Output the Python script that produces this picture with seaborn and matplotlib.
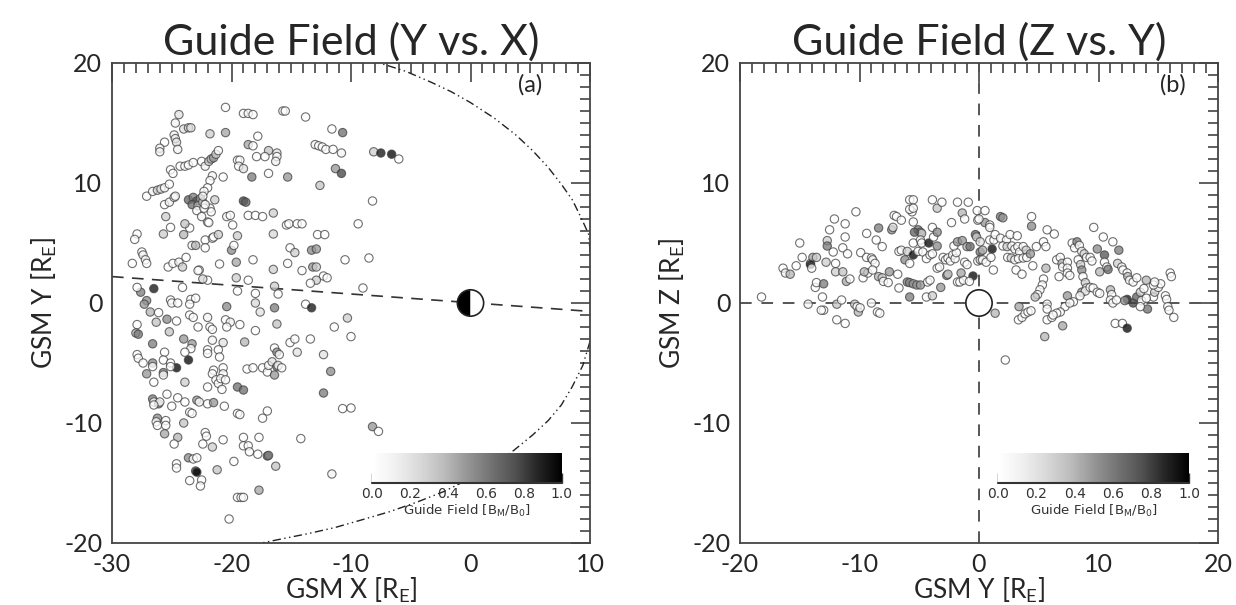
import numpy as np
import pandas as pd
import matplotlib
matplotlib.use("Agg")
import matplotlib.pyplot as plt
import seaborn as sns
from matplotlib.ticker import MultipleLocator
from matplotlib.patches import Circle, Wedge
from matplotlib.cm import ScalarMappable
from matplotlib.colors import Normalize

# ---- panel (a): GSM X / GSM Y positions and guide field ----
xa = [-24.4, -24.7, -24.0, -23.6, -23.4, -24.8, -24.7, -24.6, -24.5, -25.6,
      -26.0, -26.0, -20.5, -21.8, -20.5, -19.0, -18.6, -18.2, -17.8, -15.7,
      -15.5, -13.8, -11.6, -10.7, -18.6, -18.2, -16.9, -16.2, -17.9, -17.2,
      -16.2, -16.3, -19.5, -19.3, -19.4, -19.0, -18.3, -15.3, -16.9, -13.0,
      -12.7, -12.4, -12.1, -11.5, -10.8, -11.3, -10.8, -12.6, -8.1, -7.5,
      -6.6, -6.0, -8.2, -9.4, -8.5, -9.0, -23.6, -23.2, -22.9, -22.6,
      -23.3, -22.8, -22.4, -19.0, -18.8, -27.1, -26.6, -26.2, -25.9, -25.6,
      -25.2, -25.6, -25.2, -24.8, -24.7, -25.1, -24.9, -24.3, -23.9, -23.6,
      -23.2, -22.5, -22.2, -21.9, -21.7, -21.5, -21.3, -21.1, -21.6, -21.8,
      -22.0, -22.3, -22.4, -20.7, -21.4, -21.8, -21.7, -22.0, -21.9, -22.9,
      -22.5, -22.3, -22.2, -23.5, -23.9, -24.0, -25.1, -25.5, -25.7, -27.9,
      -28.1, -27.5, -27.4, -27.2, -27.1, -28.3, -25.3, -24.9, -24.4, -24.1,
      -23.8, -23.3, -23.0, -22.2, -21.6, -21.5, -22.2, -21.1, -21.0, -22.7,
      -20.4, -20.1, -19.9, -20.0, -19.6, -19.8, -19.5, -19.6, -18.6, -18.2,
      -18.6, -18.0, -17.4, -16.5, -15.4, -15.2, -14.5, -14.1, -16.5, -16.5,
      -15.1, -14.7, -15.3, -14.1, -13.3, -12.9, -12.8, -12.2, -13.2, -12.9,
      -12.3, -12.0, -12.9, -13.4, -16.4, -16.1, -18.0, -18.0, -19.5, -20.4,
      -22.0, -22.4, -22.8, -23.4, -23.0, -24.1, -26.5, -27.6, -27.9, -27.1,
      -25.1, -25.0, -24.5, -13.8, -13.3, -16.4, -27.3, -23.5, -17.6, -16.2,
      -26.8, -26.1, -26.3, -25.4, -24.6, -23.5, -23.2, -22.8, -22.0, -21.8,
      -21.6, -20.5, -20.1, -20.4, -19.3, -27.9, -28.0, -27.8, -25.2, -26.6,
      -25.6, -25.7, -25.1, -24.0, -23.3, -23.4, -23.9, -21.6, -22.0, -22.0,
      -20.7, -21.1, -21.0, -18.9, -18.0, -23.6, -24.6, -27.9, -27.8, -27.4,
      -26.6, -26.6, -25.7, -25.7, -27.1, -26.5, -25.1, -23.9, -21.5, -21.6,
      -21.3, -21.1, -20.7, -20.7, -20.9, -20.5, -20.8, -22.0, -19.5, -19.0,
      -18.7, -18.2, -17.4, -17.0, -16.9, -16.6, -16.2, -16.1, -15.8, -16.4,
      -16.4, -16.2, -16.0, -15.1, -14.7, -14.5, -13.4, -12.3, -11.7, -12.3,
      -10.7, -10.0, -8.2, -7.7, -11.6, -14.2, -17.0, -17.4, -17.7, -19.0,
      -19.0, -18.6, -18.5, -17.8, -17.0, -16.9, -16.3, -19.8, -17.7, -19.5,
      -19.2, -19.0, -20.2, -21.6, -20.7, -22.2, -22.1, -22.4, -21.2, -23.6,
      -23.2, -22.9, -23.0, -22.9, -23.5, -22.5, -22.6, -24.6, -24.6, -24.5,
      -24.8, -25.6, -24.0, -26.2, -26.3, -26.2, -25.5, -25.5, -26.6, -26.5,
      -26.1, -26.0, -26.5, -25.4, -25.0, -24.5, -23.9, -23.5, -23.3, -22.9,
      -22.7, -22.0, -21.5, -20.6, -19.5, -19.3, -10.5, -11.4, -10.3, -10.0]
ya = [15.7, 15.0, 14.5, 14.6, 14.6, 14.0, 13.7, 13.4, 12.8, 13.4,
      12.9, 12.6, 16.3, 14.1, 14.2, 15.8, 15.8, 15.7, 13.9, 16.0,
      16.0, 15.5, 14.5, 14.2, 13.2, 13.1, 12.7, 12.5, 12.2, 12.2,
      12.2, 11.8, 11.9, 11.9, 11.4, 11.2, 10.5, 10.5, 10.8, 13.2,
      13.1, 13.0, 12.8, 12.8, 12.5, 11.2, 10.8, 9.8, 12.6, 12.5,
      12.4, 12.0, 8.5, 6.6, 3.75, 1.25, 8.6, 8.8, 8.5, 8.7,
      8.2, 8.1, 8.4, 8.5, 8.4, 8.9, 9.3, 9.4, 9.5, 9.6,
      9.9, 8.2, 8.4, 8.8, 8.9, 11.1, 10.8, 11.4, 11.4, 11.5,
      11.7, 11.8, 11.4, 11.8, 12.0, 12.1, 12.4, 12.7, 10.6, 10.2,
      9.6, 9.3, 8.9, 10.5, 8.6, 7.9, 7.6, 6.75, 6.7, 7.7,
      7.2, 7.9, 8.2, 6.25, 6.6, 5.7, 6.3, 7.2, 5.75, 5.75,
      5.3, 4.25, 4.0, 3.6, 3.3, 3.3, 3.0, 3.3, 3.4, 3.0,
      3.8, 4.8, 4.8, 5.25, 5.4, 5.5, 4.6, 5.7, 3.25, 2.75,
      7.2, 7.3, 6.5, 4.4, 3.4, 4.8, 5.6, 2.1, 1.9, 3.6,
      7.3, 7.3, 7.2, 7.5, 6.5, 6.6, 6.6, 6.6, 5.75, 2.8,
      4.6, 4.2, 3.3, 2.7, 4.4, 4.5, 5.7, 5.7, 3.0, 3.0,
      2.25, 2.1, 1.9, 1.65, 1.4, 0.75, 0.8, 0.0, 1.0, -0.3,
      1.9, 2.0, 2.7, 0.3, 0.4, 1.3, 1.2, 0.9, 1.3, 0.2,
      0.25, 0.0, 0.0, -0.1, -0.4, -0.4, -0.1, -0.1, -0.75, -1.75,
      -0.75, -0.8, -1.6, -1.35, -1.5, -1.0, -1.2, -2.0, -1.2, -2.0,
      -2.2, -1.4, -1.6, -2.0, -1.8, -1.8, -2.5, -2.6, -2.4, -3.4,
      -4.1, -4.75, -5.0, -3.0, -3.4, -3.8, -4.1, -3.1, -3.9, -4.2,
      -3.3, -3.9, -4.5, -3.25, -2.3, -4.75, -5.4, -4.3, -4.6, -5.0,
      -5.0, -5.3, -5.8, -6.0, -5.9, -6.6, -5.3, -6.6, -5.6, -5.9,
      -6.4, -6.7, -5.4, -5.9, -6.3, -6.4, -7.2, -7.0, -7.0, -7.25,
      -5.5, -5.4, -5.4, -5.75, -5.2, -4.9, -5.3, -5.2, -5.4, -6.0,
      -3.75, -4.1, -4.3, -3.3, -3.0, -4.1, -3.0, -4.3, -5.7, -7.5,
      -8.8, -8.75, -10.3, -10.7, -14.25, -11.3, -9.0, -9.6, -11.2, -11.2,
      -11.9, -11.9, -12.4, -12.6, -12.75, -12.7, -13.6, -13.2, -15.6, -16.2,
      -16.2, -16.2, -18.0, -12.0, -11.4, -10.8, -11.1, -11.75, -13.9, -12.9,
      -13.0, -12.9, -14.0, -14.1, -14.8, -14.75, -15.25, -13.4, -13.75, -11.2,
      -11.75, -10.9, -10.0, -9.6, -9.9, -10.2, -9.8, -10.2, -8.0, -8.25,
      -8.4, -8.25, -8.5, -7.6, -8.6, -7.9, -8.25, -9.1, -9.2, -8.1,
      -8.25, -8.4, -8.3, -8.6, -9.2, -9.3, 3.6, -2.0, -1.25, -2.8]
ga = [0.2, 0.1, 0.2, 0.3, 0.2, 0.1, 0.15, 0.2, 0.1, 0.0,
      0.1, 0.1, 0.0, 0.3, 0.45, 0.05, 0.05, 0.0, 0.0, 0.05,
      0.0, 0.0, 0.0, 0.65, 0.45, 0.0, 0.35, 0.2, 0.0, 0.0,
      0.0, 0.1, 0.0, 0.0, 0.0, 0.2, 0.6, 0.5, 0.0, 0.1,
      0.0, 0.0, 0.0, 0.0, 0.1, 0.5, 0.8, 0.35, 0.3, 0.95,
      1.0, 0.0, 0.0, 0.0, 0.0, 0.0, 0.7, 0.6, 0.75, 0.5,
      0.65, 0.4, 0.3, 0.8, 0.7, 0.0, 0.1, 0.3, 0.2, 0.0,
      0.0, 0.0, 0.1, 0.0, 0.1, 0.0, 0.0, 0.0, 0.0, 0.0,
      0.0, 0.0, 0.1, 0.3, 0.4, 0.5, 0.3, 0.0, 0.1, 0.0,
      0.0, 0.0, 0.1, 0.0, 0.3, 0.1, 0.0, 0.0, 0.0, 0.0,
      0.1, 0.0, 0.0, 0.0, 0.35, 0.4, 0.0, 0.3, 0.3, 0.0,
      0.0, 0.0, 0.1, 0.0, 0.0, 0.0, 0.0, 0.0, 0.1, 0.3,
      0.0, 0.1, 0.4, 0.0, 0.0, 0.0, 0.0, 0.3, 0.0, 0.0,
      0.1, 0.0, 0.0, 0.55, 0.45, 0.0, 0.3, 0.3, 0.0, 0.0,
      0.0, 0.0, 0.0, 0.3, 0.0, 0.0, 0.0, 0.0, 0.25, 0.3,
      0.0, 0.3, 0.0, 0.0, 0.55, 0.5, 0.0, 0.0, 0.5, 0.3,
      0.0, 0.0, 0.3, 0.0, 0.3, 0.0, 0.0, 0.25, 0.0, 0.55,
      0.0, 0.25, 0.0, 0.0, 0.0, 0.0, 0.95, 0.6, 0.0, 0.55,
      0.0, 0.0, 0.0, 0.0, 0.95, 0.6, 0.5, 0.0, 0.2, 0.35,
      0.4, 0.0, 0.35, 0.55, 0.0, 0.0, 0.0, 0.0, 0.1, 0.0,
      0.0, 0.0, 0.1, 0.0, 0.0, 0.0, 0.45, 0.6, 0.35, 0.6,
      0.0, 0.0, 0.0, 0.5, 0.5, 0.0, 0.0, 0.1, 0.0, 0.0,
      0.2, 0.0, 0.0, 0.4, 0.0, 1.0, 1.0, 0.0, 0.0, 0.0,
      0.55, 0.0, 0.6, 0.0, 0.5, 0.0, 0.0, 0.3, 0.0, 0.0,
      0.0, 0.0, 0.0, 0.0, 0.0, 0.0, 0.0, 0.0, 0.65, 0.65,
      0.0, 0.0, 0.0, 0.0, 0.0, 0.2, 0.6, 0.0, 0.0, 0.5,
      0.0, 0.55, 0.0, 0.0, 0.0, 0.2, 0.0, 0.2, 0.55, 0.6,
      0.0, 0.0, 0.5, 0.0, 0.1, 0.0, 0.0, 0.0, 0.0, 0.0,
      0.0, 0.0, 0.0, 0.0, 0.65, 0.6, 0.35, 0.0, 0.45, 0.0,
      0.0, 0.0, 0.0, 0.3, 0.0, 0.0, 0.0, 0.0, 0.35, 0.55,
      0.0, 0.0, 0.8, 1.0, 0.0, 0.0, 0.0, 0.0, 0.0, 0.4,
      0.0, 0.45, 0.35, 0.55, 0.0, 0.0, 0.0, 0.0, 0.6, 0.0,
      0.6, 0.0, 0.0, 0.0, 0.0, 0.0, 0.0, 0.0, 0.0, 0.5,
      0.0, 0.0, 0.5, 0.0, 0.0, 0.0, 0.0, 0.0, 0.3, 0.0]

# ---- panel (b): GSM Y / GSM Z positions and guide field ----
xb = [-18.2, -16.4, -16.2, -15.8, -15.3, -15.0, -14.8, -14.1, -13.9, -13.6,
      -14.1, -14.0, -14.3, -13.1, -13.0, -13.2, -13.7, -13.6, -13.0, -12.7,
      -12.7, -12.5, -12.1, -11.2, -10.3, -12.8, -12.0, -12.0, -12.2, -11.4,
      -11.2, -11.0, -11.4, -11.1, -10.8, -11.9, -11.5, -11.9, -11.2, -10.4,
      -10.2, -10.1, -9.95, -9.9, -9.4, -9.0, -8.9, -8.7, -9.7, -9.3,
      -8.9, -9.6, -9.4, -8.6, -8.4, -8.1, -9.0, -8.5, -8.3, -8.4,
      -8.1, -8.0, -7.6, -7.5, -7.3, -7.2, -7.1, -6.9, -6.5, -6.8,
      -6.7, -6.7, -6.5, -6.0, -6.2, -6.0, -5.8, -5.5, -5.2, -4.9,
      -5.8, -5.8, -5.5, -5.6, -5.8, -5.5, -5.8, -5.5, -5.1, -4.9,
      -4.8, -5.4, -5.5, -5.5, -4.9, -4.8, -5.1, -4.7, -4.4, -4.1,
      -3.9, -4.2, -4.3, -4.1, -4.4, -3.9, -3.9, -3.8, -3.9, -3.5,
      -3.5, -3.5, -3.5, -3.3, -3.2, -3.1, -3.0, -2.8, -2.6, -2.7,
      -2.6, -2.4, -2.2, -2.0, -1.9, -2.3, -2.1, -1.8, -1.4, -1.2,
      -1.8, -1.6, -1.3, -1.5, -1.8, -1.4, -1.0, -1.2, -1.0, -0.9,
      -0.75, -0.5, -0.8, -0.15, -0.1, 0.5, -0.3, -0.2, 0.1, 0.3,
      1.1, 0.5, 0.1, -0.1, 0.1, 0.3, 0.6, 1.2, 1.35, 0.9,
      0.9, 1.25, 1.0, 0.0, 0.9, 1.8, 2.0, 1.35, 1.8, 2.3,
      2.6, 3.2, 2.0, 2.35, 2.75, 3.0, 3.25, 3.4, 3.7, 3.95,
      2.4, 2.7, 3.0, 3.3, 3.7, 4.0, 4.3, 3.1, 3.6, 4.4,
      4.4, 4.5, 4.8, 5.4, 5.6, 5.7, 6.3, 5.4, 5.3, 5.1,
      4.9, 4.7, 5.6, 5.7, 5.7, 5.7, 6.1, 5.5, 3.35, 3.3,
      3.6, 3.85, 4.1, 4.35, 2.2, 6.5, 6.8, 6.95, 7.0, 7.4,
      7.4, 6.7, 7.4, 7.6, 7.4, 7.2, 6.8, 6.5, 6.2, 7.0,
      7.9, 7.6, 7.8, 8.0, 8.2, 8.4, 8.6, 8.8, 9.0, 8.3,
      8.5, 8.6, 8.7, 8.9, 9.0, 8.6, 8.9, 8.45, 9.3, 9.55,
      9.9, 10.1, 9.3, 9.45, 9.6, 9.9, 10.4, 10.5, 10.5, 10.7,
      10.1, 10.8, 11.2, 11.7, 11.0, 11.1, 11.0, 11.2, 11.5, 11.6,
      11.95, 12.05, 12.4, 12.45, 12.6, 12.9, 13.2, 12.4, 12.9, 13.2,
      11.4, 12.0, 12.4, 14.1, 14.6, 14.7, 15.0, 15.2, 14.6, 14.7,
      14.0, 15.6, 15.7, 15.8, 15.9, 16.3, 16.0, 16.1, 13.5, 13.8,
      13.6, 14.0, 12.2, 13.5]
yb = [0.5, 2.9, 2.5, 2.4, 3.1, 5.0, 3.8, 3.3, 3.8, 3.8,
      3.2, 2.9, -0.1, 0.5, -0.6, -0.6, 1.3, 1.7, 1.6, 5.2,
      4.75, 6.1, 7.0, 6.6, 7.6, 3.4, 3.3, 2.6, 4.25, 4.6,
      5.5, 4.1, 2.6, 1.8, 2.0, -0.1, 0.25, -1.4, -1.7, -0.1,
      -0.3, -0.75, -0.4, 4.2, 3.8, 3.75, 3.6, 3.3, 2.1, 2.5,
      2.75, 2.6, 5.8, 5.25, 6.25, 4.7, 0.0, -0.75, -0.85, 2.2,
      2.1, 1.8, 1.7, 2.6, 6.1, 6.3, 7.3, 7.2, 6.9, 2.4,
      1.25, 4.3, 4.4, 4.3, 3.6, 1.75, 1.7, 1.6, 1.5, 1.5,
      0.5, 3.3, 6.75, 7.6, 8.6, 8.6, 7.8, 7.9, 6.1, 5.9,
      5.8, 5.9, 4.0, 5.0, 5.25, 5.0, 4.3, 4.25, 3.7, 4.0,
      4.1, 5.0, 1.75, 1.9, 0.5, 0.6, 6.3, 5.5, 8.6, 7.9,
      5.9, 4.75, 2.9, 3.0, 1.3, 8.4, 3.8, 3.6, 3.75, 2.3,
      2.4, 3.5, 4.0, 3.7, 4.2, 6.7, 4.75, 8.4, 7.5, 7.0,
      1.75, 1.75, 1.9, 2.5, 5.1, 5.2, 4.7, 3.4, 3.2, 8.4,
      4.7, 2.25, 1.8, 7.7, 6.9, 7.7, 5.7, 5.5, 4.25, 4.4,
      4.5, 6.7, 5.1, 3.5, 3.6, 3.6, 3.4, 2.75, -0.85, 6.5,
      5.25, 5.25, 3.8, 7.0, 6.3, 7.2, 7.1, 5.7, 5.4, 5.25,
      5.7, 5.6, 4.75, 4.7, 4.75, 4.5, 4.7, 4.25, 4.7, 4.4,
      3.8, 3.75, 3.6, 3.7, 3.75, 3.8, 4.1, 2.75, 2.4, 6.4,
      7.2, 3.1, 4.7, 5.1, 4.7, 6.1, 5.75, 2.0, 1.5, 1.1,
      0.7, 0.5, 2.9, -0.1, -0.5, -1.4, -1.2, -2.8, -0.3, -1.4,
      -1.2, -0.9, -0.75, -0.65, -4.75, 3.6, 3.8, 3.3, 3.0, 3.4,
      2.9, 2.2, 2.5, 2.3, 0.6, -0.3, -0.75, -0.85, -1.0, -1.9,
      0.1, 0.0, 5.0, 4.6, 5.1, 4.8, 4.3, 4.1, 3.8, 3.6,
      3.2, 2.75, 2.2, 1.7, 1.25, 0.9, 1.0, 0.6, 1.3, 1.25,
      0.9, 0.8, 3.8, 3.5, 6.3, 4.5, 5.5, 4.0, 3.4, 3.0,
      2.6, 2.8, 5.1, 4.4, 1.1, 0.7, 0.25, 0.0, 0.25, 3.3,
      3.0, 2.75, 2.5, 2.2, 1.9, 1.75, 2.1, 0.3, 0.0, 0.5,
      -1.7, -1.7, -2.1, -0.5, 0.5, 0.9, 1.3, 1.6, 1.5, 1.75,
      1.9, 0.6, 0.3, -0.3, -0.6, -1.2, 2.5, 2.2, 0.9, 1.2,
      0.2, 0.4, 0.2, -0.3]
gb = [0.0, 0.0, 0.1, 0.4, 0.0, 0.0, 0.0, 0.0, 0.45, 0.3,
      1.0, 0.0, 0.1, 0.0, 0.0, 0.0, 0.0, 0.0, 0.6, 0.3,
      0.6, 0.0, 0.0, 0.0, 0.0, 0.3, 0.0, 0.3, 0.0, 0.0,
      0.0, 0.0, 0.35, 0.45, 0.0, 0.35, 0.0, 0.0, 0.0, 0.3,
      0.0, 0.4, 0.0, 0.0, 0.0, 0.0, 0.1, 0.0, 0.0, 0.0,
      0.0, 0.4, 0.0, 0.0, 0.6, 0.0, 0.0, 0.0, 0.0, 0.4,
      0.3, 0.0, 0.0, 0.5, 0.55, 0.2, 0.0, 0.0, 0.0, 0.0,
      0.0, 0.0, 0.0, 0.3, 0.55, 0.6, 0.55, 0.5, 0.5, 0.5,
      0.6, 0.0, 0.0, 0.0, 0.0, 0.0, 0.0, 0.0, 0.6, 0.55,
      0.3, 0.7, 1.0, 0.0, 0.0, 0.0, 0.0, 0.0, 0.0, 0.0,
      0.0, 1.0, 0.0, 0.0, 0.0, 0.3, 0.0, 0.0, 0.0, 0.35,
      0.55, 0.55, 0.0, 0.0, 0.5, 0.0, 0.0, 0.0, 0.0, 0.6,
      0.3, 0.0, 0.0, 0.0, 0.0, 0.0, 0.0, 0.0, 0.4, 0.0,
      0.0, 0.0, 0.0, 0.45, 0.5, 0.5, 0.4, 0.0, 0.0, 0.0,
      0.65, 1.0, 0.0, 0.0, 0.0, 0.0, 0.7, 0.3, 0.6, 0.4,
      1.0, 0.5, 0.2, 0.0, 0.3, 0.0, 0.0, 0.0, 0.4, 0.0,
      0.0, 0.0, 0.0, 0.0, 0.0, 0.6, 0.5, 0.0, 0.0, 0.0,
      0.0, 0.0, 0.0, 0.3, 0.0, 0.0, 0.0, 0.0, 0.0, 0.3,
      0.0, 0.3, 0.0, 0.0, 0.0, 0.0, 0.5, 0.0, 0.0, 0.55,
      0.0, 0.0, 0.0, 0.0, 0.0, 0.0, 0.0, 0.0, 0.0, 0.0,
      0.0, 0.35, 0.4, 0.0, 0.0, 0.0, 0.0, 0.4, 0.45, 0.0,
      0.0, 0.0, 0.0, 0.0, 0.0, 0.0, 0.0, 0.3, 0.0, 0.0,
      0.0, 0.0, 0.0, 0.0, 0.5, 0.0, 0.0, 0.0, 0.0, 0.45,
      0.0, 0.0, 0.0, 0.0, 0.6, 0.0, 0.0, 0.3, 0.0, 0.0,
      0.3, 0.55, 0.0, 0.3, 0.0, 0.5, 0.0, 0.0, 0.0, 0.0,
      0.0, 0.0, 0.0, 0.0, 0.0, 0.55, 0.0, 0.75, 0.0, 0.0,
      0.4, 0.65, 0.0, 0.6, 0.4, 0.0, 0.0, 0.0, 0.0, 0.3,
      0.0, 0.0, 0.0, 0.4, 0.0, 0.0, 0.0, 0.95, 0.8, 0.7,
      0.0, 0.0, 1.0, 0.65, 0.0, 0.3, 0.0, 0.0, 0.0, 0.0,
      0.4, 0.0, 0.0, 0.0, 0.0, 0.0, 0.0, 0.0, 0.3, 0.0,
      0.0, 0.0, 0.5, 0.0]

# reference lines
aberr_x = [-30.0, 10.0]
aberr_y = [2.2, -0.7]
mp_top_x = [10.0, 9.9, 9.4, 8.55, 7.6, 6.5, 5.2, 3.8, 2.0, 0.0, -1.6, -3.3, -5.4, -7.6]
mp_top_y = [4.3, 5.7, 6.8, 8.55, 9.9, 11.3, 12.7, 14.0, 15.4, 16.7, 17.6, 18.4, 19.3, 20.0]
mp_bot_x = [10.0, 9.4, 8.5, 7.6, 6.5, 5.2, 3.6, 1.9, 0.0, -2.2, -4.5, -6.8, -9.2, -11.3, -13.5, -15.5, -17.5]
mp_bot_y = [-3.2, -5.2, -7.0, -8.5, -9.8, -11.0, -12.3, -13.5, -14.6, -15.7, -16.6, -17.4, -18.1, -18.7, -19.2, -19.6, -20.0]

df_a = pd.DataFrame({"x": xa, "y": ya, "g": ga})
df_b = pd.DataFrame({"x": xb, "y": yb, "g": gb})

sns.set_theme(style="white")
plt.rcParams['font.family'] = ['Lato', 'DejaVu Sans']
plt.rcParams['axes.unicode_minus'] = False

AX_COL = '#444444'
fig = plt.figure(figsize=(12.36, 6.05), dpi=100)
ax1 = fig.add_axes([112 / 1236, 62 / 605, 478 / 1236, 480 / 605])
ax2 = fig.add_axes([740 / 1236, 62 / 605, 478 / 1236, 480 / 605])


def style_axes(ax, xlim, ylim):
    ax.set_xlim(*xlim)
    ax.set_ylim(*ylim)
    ax.xaxis.set_major_locator(MultipleLocator(10))
    ax.xaxis.set_minor_locator(MultipleLocator(1))
    ax.yaxis.set_major_locator(MultipleLocator(10))
    ax.yaxis.set_minor_locator(MultipleLocator(1))
    ax.tick_params(which='both', direction='in', top=True, right=True,
                   color=AX_COL, width=1.2)
    ax.tick_params(which='major', length=14, labelsize=18, pad=7)
    ax.tick_params(which='minor', length=7)
    for s in ax.spines.values():
        s.set_color(AX_COL)
        s.set_linewidth(1.3)


def scatter(ax, df):
    sns.scatterplot(data=df, x="x", y="y", hue="g", palette="Greys",
                    hue_norm=(0, 1), legend=False, s=36, edgecolor='#404040',
                    linewidth=0.8, alpha=0.75, zorder=3, ax=ax)


def add_cbar(ax, rect):
    cax = ax.inset_axes(rect)
    cb = fig.colorbar(ScalarMappable(norm=Normalize(0, 1), cmap='Greys'),
                      cax=cax, orientation='horizontal')
    cb.outline.set_visible(False)
    ticks = np.arange(0, 1.01, 0.2)
    cax.set_xticks(ticks)
    cax.set_xticklabels([f"{t:.1f}" for t in ticks], fontfamily='DejaVu Sans')
    cax.xaxis.set_minor_locator(MultipleLocator(0.05))
    cax.tick_params(which='both', direction='in', color='#333333',
                    labelcolor='#333333', labelsize=10, width=1, pad=3)
    cax.tick_params(which='major', length=7)
    cax.tick_params(which='minor', length=4)
    cax.plot([0, 1], [0, 0], transform=cax.transAxes, color='#333333',
             lw=1.5, clip_on=False)
    cax.set_xlabel('Guide Field [B$_{\\mathregular{M}}$/B$_{\\mathregular{0}}$]',
                   fontsize=9.5, color='#333333', labelpad=1,
                   fontfamily='DejaVu Sans')


# ---- panel (a) ----
style_axes(ax1, (-30, 10), (-20, 20))
ax1.plot(aberr_x, aberr_y, color='#333333', lw=1.2, ls=(0, (7, 5)), zorder=2)
ax1.plot(mp_top_x, mp_top_y, color='#222222', lw=1.0, ls=(0, (6, 2.5, 1, 2.5, 1, 2.5)), zorder=2)
ax1.plot(mp_bot_x, mp_bot_y, color='#222222', lw=1.0, ls=(0, (6, 2.5, 1, 2.5, 1, 2.5)), zorder=2)
scatter(ax1, df_a)
ax1.add_patch(Wedge((0, 0), 1.1, 90, 270, facecolor='black', edgecolor='none', zorder=4))
ax1.add_patch(Wedge((0, 0), 1.1, 270, 90, facecolor='white', edgecolor='none', zorder=4))
ax1.add_patch(Circle((0, 0), 1.1, facecolor='none', edgecolor='#222222', lw=1.2, zorder=5))
ax1.set_title('Guide Field (Y vs. X)', fontsize=31, pad=6)
ax1.set_xlabel('GSM X [R$_{\\mathregular{E}}$]', fontsize=19, labelpad=0)
ax1.set_ylabel('GSM Y [R$_{\\mathregular{E}}$]', fontsize=19, labelpad=4)
ax1.text(0.875, 0.955, '(a)', transform=ax1.transAxes, ha='center', va='center', fontsize=17)
add_cbar(ax1, [0.544, 0.125, 0.397, 0.0625])

# ---- panel (b) ----
style_axes(ax2, (-20, 20), (-20, 20))
ax2.axhline(0, color='#555555', lw=1.4, ls=(0, (6, 5)), zorder=1)
ax2.axvline(0, color='#555555', lw=1.4, ls=(0, (6, 5)), zorder=1)
ax2.add_patch(Circle((0, 0), 1.1, facecolor='white', edgecolor='#222222', lw=1.2, zorder=2))
scatter(ax2, df_b)
ax2.set_title('Guide Field (Z vs. Y)', fontsize=31, pad=6)
ax2.set_xlabel('GSM Y [R$_{\\mathregular{E}}$]', fontsize=19, labelpad=0)
ax2.set_ylabel('GSM Z [R$_{\\mathregular{E}}$]', fontsize=19, labelpad=4)
ax2.text(0.906, 0.955, '(b)', transform=ax2.transAxes, ha='center', va='center', fontsize=17)
add_cbar(ax2, [0.54, 0.125, 0.40, 0.0625])

fig.savefig('out.png', dpi=100)
